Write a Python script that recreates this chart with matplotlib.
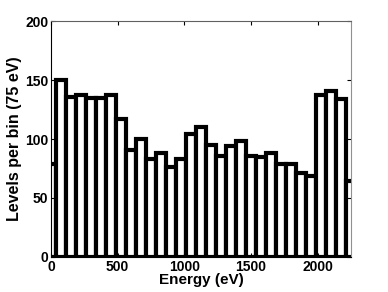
import numpy as np
import matplotlib
matplotlib.use('Agg')
import matplotlib.pyplot as plt

# Level counts in 75 eV bins, bin centres from 0 to 2250 eV
bin_width = 75
energy = np.arange(0, 2251, bin_width)
levels = [79, 150, 136, 137, 135, 135, 137, 117, 91, 100, 83, 88, 76, 83, 104,
          110, 95, 86, 94, 98, 86, 85, 88, 79, 79, 71, 69, 137, 141, 134, 64]

x_ticks = [0, 500, 1000, 1500, 2000]
y_ticks = [0, 50, 100, 150, 200]

plt.rcParams['font.family'] = ['Liberation Sans', 'DejaVu Sans']

fig = plt.figure(figsize=(3.88, 2.92), dpi=100)
ax = fig.add_axes([0.1314, 0.1199, 0.7732, 0.8081])

ax.bar(energy, levels, width=bin_width, facecolor='white', edgecolor='black',
       linewidth=3, align='center')

ax.set_xlim(0, 2250)
ax.set_ylim(0, 200)
ax.set_xticks(x_ticks)
ax.set_yticks(y_ticks)
ax.tick_params(direction='in', top=True, right=True, length=3, width=0.8,
               labelsize=10, pad=2)
for lab in ax.get_xticklabels() + ax.get_yticklabels():
    lab.set_fontweight('bold')

ax.spines['left'].set_color('black')
ax.spines['bottom'].set_color('black')
ax.spines['top'].set_color('#606060')
ax.spines['right'].set_color('#909090')

ax.set_xlabel('Energy (eV)', fontsize=11, fontweight='bold', labelpad=-0.5)
ax.set_ylabel('Levels per bin (75 eV)', fontsize=11.5, fontweight='bold', labelpad=2)

fig.savefig('out.png', dpi=100)
